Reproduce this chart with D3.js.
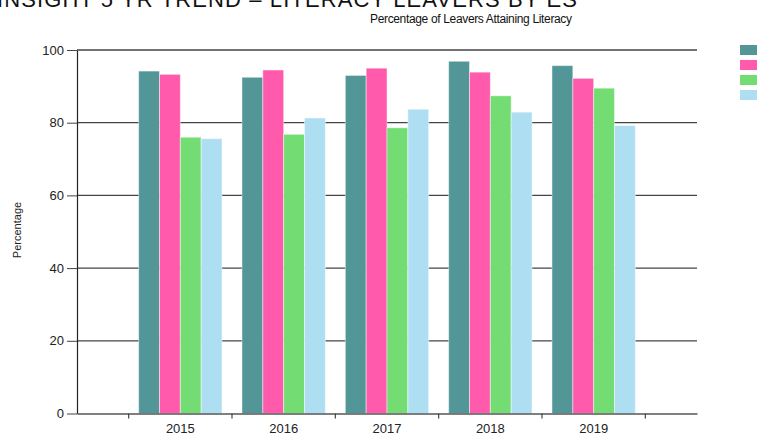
<!DOCTYPE html>
<html>
<head>
<meta charset="utf-8">
<script src="https://cdn.jsdelivr.net/npm/d3@7"></script>
<style>
  body { margin: 0; background: #fff; overflow: hidden; }
  svg { display: block; }
</style>
</head>
<body>
<script>
// literacy leavers - 5 year trend, grouped bars

var years = ["2015", "2016", "2017", "2018", "2019"];
var seriesNames = ["School", "Cluster", "Local Authority", "National"];
var seriesColors = ["#529698", "#ff5aab", "#73dc73", "#addef1"];
var yTicks = [0, 20, 40, 60, 80, 100];

// one array per series, one value per year
var school   = [94.2, 92.5, 93.0, 96.9, 95.7];
var cluster  = [93.3, 94.5, 95.0, 93.9, 92.2];
var localAuth = [76.0, 76.8, 78.6, 87.4, 89.5];
var national = [75.6, 81.3, 83.7, 82.9, 79.2];
var seriesValues = [school, cluster, localAuth, national];

var W = 757, H = 438;
var margin = {top: 50, right: 60, bottom: 24.5, left: 77};

var svg = d3.select("body").append("svg")
    .attr("width", W)
    .attr("height", H);

// x: one band per year, half an empty band at each end
var x0 = d3.scaleBand()
    .domain(years)
    .range([margin.left, W - margin.right])
    .paddingInner(0)
    .paddingOuter(0.5);

var x1 = d3.scaleBand()
    .domain(d3.range(seriesNames.length))
    .range([10, x0.bandwidth() - 10]);

var y = d3.scaleLinear()
    .domain([0, 100])
    .range([H - margin.bottom, margin.top]);

// page heading, cut off at the top
svg.append("text")
    .attr("x", -3)
    .attr("y", 7)
    .attr("textLength", 580)
    .style("font-family", "Arial, 'Liberation Sans', sans-serif")
    .style("font-size", "22px")
    .style("fill", "#111")
    .text("INSIGHT 5 YR TREND \u2013 LITERACY LEAVERS BY ES");

// chart title
svg.append("text")
    .attr("x", 471)
    .attr("y", 23)
    .attr("textLength", 202)
    .style("text-anchor", "middle")
    .style("font-family", "'Liberation Sans Narrow', 'Arial Narrow', sans-serif")
    .style("font-size", "12px")
    .style("fill", "#111")
    .text("Percentage of Leavers Attaining Literacy");

// gridlines
svg.append("g")
    .selectAll("line")
    .data(yTicks.filter(function(d) { return d > 0; }))
    .enter().append("line")
    .attr("x1", margin.left)
    .attr("x2", W - margin.right)
    .attr("y1", function(d) { return y(d); })
    .attr("y2", function(d) { return y(d); })
    .style("stroke", "#444")
    .style("stroke-width", 1.3);

// bars
var group = svg.append("g")
    .selectAll("g")
    .data(years)
    .enter().append("g")
    .attr("transform", function(d) { return "translate(" + x0(d) + ",0)"; });

group.selectAll("rect")
    .data(function(d, i) {
        return seriesValues.map(function(vals, s) { return {s: s, v: vals[i]}; });
    })
    .enter().append("rect")
    .attr("x", function(d) { return x1(d.s); })
    .attr("width", x1.bandwidth())
    .attr("y", function(d) { return y(d.v); })
    .attr("height", function(d) { return y(0) - y(d.v); })
    .style("fill", function(d) { return seriesColors[d.s]; })
    .style("stroke", "rgba(255,255,255,0.45)")
    .style("stroke-width", 1);

// y axis
var yAxis = svg.append("g")
    .attr("transform", "translate(" + margin.left + ",0)")
    .call(d3.axisLeft(y).tickValues(yTicks).tickSize(10).tickPadding(3).tickSizeOuter(0));
yAxis.select(".domain").style("stroke", "#222").style("stroke-width", 1.2);
yAxis.selectAll(".tick line").style("stroke", "#444");
yAxis.selectAll("text")
    .style("font-family", "Arial, 'Liberation Sans', sans-serif")
    .style("font-size", "13px")
    .style("fill", "#222");

// x axis: labels centred in bands, ticks on band edges
var xAxis = svg.append("g")
    .attr("transform", "translate(0," + y(0) + ")")
    .call(d3.axisBottom(x0).tickSize(0).tickPadding(10).tickSizeOuter(0));
xAxis.select(".domain").style("stroke", "#555").style("stroke-width", 1.5);
xAxis.selectAll("text")
    .style("font-family", "Arial, 'Liberation Sans', sans-serif")
    .style("font-size", "13px")
    .style("fill", "#222");

var edges = years.map(function(d) { return x0(d); });
edges.push(x0(years[years.length - 1]) + x0.bandwidth());
xAxis.selectAll(".edge")
    .data(edges)
    .enter().append("line")
    .attr("class", "edge")
    .attr("x1", function(d) { return d; })
    .attr("x2", function(d) { return d; })
    .attr("y1", 0)
    .attr("y2", 5)
    .style("stroke", "#444")
    .style("stroke-width", 1.2);

// y axis title
svg.append("text")
    .attr("transform", "translate(21,230) rotate(-90)")
    .style("text-anchor", "middle")
    .style("font-family", "'Liberation Sans Narrow', 'Arial Narrow', sans-serif")
    .style("font-size", "11px")
    .style("fill", "#222")
    .text("Percentage");

// legend, mostly outside the visible page
var legend = svg.append("g")
    .selectAll("g")
    .data(seriesNames)
    .enter().append("g")
    .attr("transform", function(d, i) { return "translate(740," + (45 + i * 15) + ")"; });

legend.append("rect")
    .attr("width", 18)
    .attr("height", 10)
    .style("fill", function(d, i) { return seriesColors[i]; });

legend.append("text")
    .attr("x", 24)
    .attr("y", 9)
    .style("font-family", "Arial, 'Liberation Sans', sans-serif")
    .style("font-size", "11px")
    .text(function(d) { return d; });
</script>
</body>
</html>
